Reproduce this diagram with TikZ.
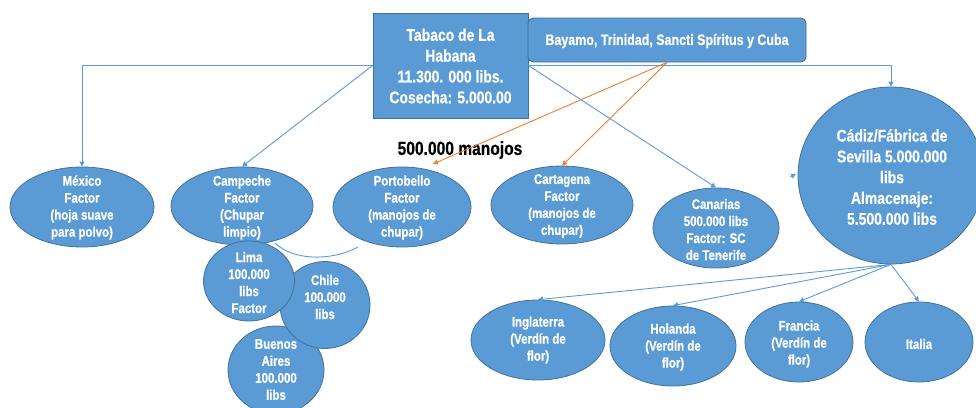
\documentclass[tikz,border=0pt]{standalone}
\usepackage{fontspec}
\setmainfont{Liberation Sans}
\newfontfamily\nb[FakeStretch=0.82,FakeBold=0.5]{Liberation Sans}
\usetikzlibrary{arrows.meta,shapes.geometric,calc}
\definecolor{nfill}{HTML}{5B9BD5}
\definecolor{ndraw}{HTML}{41719C}
\definecolor{lblue}{HTML}{5B9BD5}
\definecolor{lorange}{HTML}{ED7D31}
\tikzset{
  ell/.style={ellipse, fill=nfill, draw=ndraw, line width=0.8pt, inner sep=0pt},
  boxn/.style={rectangle, fill=nfill, draw=ndraw, line width=0.8pt, inner sep=0pt},
  txt/.style={text=white, font=\nb\bfseries\fontsize{14}{17}\selectfont, align=center, inner sep=0pt},
  bigtxt/.style={text=white, font=\nb\bfseries\fontsize{17}{20.8}\selectfont, align=center, inner sep=0pt},
  bline/.style={draw=lblue, line width=0.9pt},
  barrow/.style={bline, -{Triangle[length=5pt,width=5pt]}},
  oarrow/.style={draw=lorange, line width=0.9pt, -{Triangle[length=5pt,width=5pt]}},
}
\begin{document}
\begin{tikzpicture}[x=1pt,y=-1pt]
\useasboundingbox (0,0) rectangle (976,407);
% top boxes
\node[boxn, minimum width=155, minimum height=105] (tab) at (450.5,65.5) {};
\node[bigtxt] (tabT) at (450.5,66) {Tabaco de La\\Habana\\11.300. 000 libs.\\Cosecha: 5.000.00};
\node[boxn, rounded corners=5pt, minimum width=278, minimum height=44] (bay) at (667,40) {};
\node[txt, font=\nb\bfseries\fontsize{15.2}{17}\selectfont] (bayT) at (667,41) {Bayamo, Trinidad, Sancti Spíritus y Cuba};
% first row
\node[ell, minimum width=144, minimum height=80] (mex) at (82,207) {};
\node[txt] (mexT) at (82,207.5) {México\\Factor\\(hoja suave\\para polvo)};
\node[ell, minimum width=142, minimum height=78] (camp) at (242,206) {};
\node[txt] (campT) at (242,207.5) {Campeche\\Factor\\(Chupar\\limpio)};
\node[ell, minimum width=138, minimum height=80] (port) at (402,207) {};
\node[txt] (portT) at (402,207.5) {Portobello\\Factor\\(manojos de\\chupar)};
\node[ell, minimum width=142, minimum height=78] (cart) at (562,205) {};
\node[txt] (cartT) at (562,206) {Cartagena\\Factor\\(manojos de\\chupar)};
\node[ell, minimum width=126, minimum height=80] (can) at (716,228) {};
\node[txt] (canT) at (716,229.5) {Canarias\\500.000 libs\\Factor: SC\\de Tenerife};
\node[ell, minimum width=186, minimum height=177] (cad) at (891,175.5) {};
\node[bigtxt] (cadT) at (892,177) {Cádiz/Fábrica de\\Sevilla 5.000.000\\libs\\Almacenaje:\\5.500.000 libs};
% southern cluster
\node[ell, minimum width=96, minimum height=88] (buen) at (276,370) {};
\node[txt] (buenT) at (276,369.5) {Buenos\\Aires\\100.000\\libs};
\node[ell, minimum width=90, minimum height=87] (chile) at (325,305) {};
\node[txt] (chileT) at (325,297) {Chile\\100.000\\libs};
\node[ell, minimum width=91, minimum height=80] (lima) at (249,281) {};
\node[txt] (limaT) at (249,282.5) {Lima\\100.000\\libs\\Factor};
% bottom row
\node[ell, minimum width=134, minimum height=80] (ing) at (538,340) {};
\node[txt] (ingT) at (538,340) {Inglaterra\\(Verdín de\\flor)};
\node[ell, minimum width=126, minimum height=80] (hol) at (673,346) {};
\node[txt] (holT) at (673,347) {Holanda\\(Verdín de\\flor)};
\node[ell, minimum width=108, minimum height=80] (fra) at (799,342) {};
\node[txt] (fraT) at (799,344) {Francia\\(Verdín de\\flor)};
\node[ell, minimum width=108, minimum height=80] (ita) at (919,342) {};
\node[txt] (itaT) at (919,344) {Italia};
% label
\node[font=\nb\bfseries\fontsize{19}{22}\selectfont, inner sep=0pt] (man) at (460,150) {500.000 manojos};
% connectors
\draw[barrow] (tab.west) -| (mex.north);
\draw[barrow] (tab.west) -- (camp.north);
\draw[barrow] (tab.east) -- (can.north);
\draw[barrow] (tab.east) -| (cad.north);
\coordinate (portTip) at (433,164);
\draw[oarrow] (bay.south) -- (portTip);
\draw[oarrow] (bay.south) -- (cart.north);
\draw[barrow] (cad.south) -- (ing.north);
\draw[barrow] (cad.south) -- (hol.north);
\draw[barrow] (cad.south) -- (fra.north);
\draw[barrow] (cad.south) -- (ita.north);
\coordinate (campEnd) at (275,243);
\coordinate (portEnd) at (358,247);
\draw[bline] (campEnd) .. controls (292,260) and (330,262) .. (portEnd);
\coordinate (strayA) at (790,177);
\coordinate (strayB) at (796,174);
\draw[barrow] (strayA) -- (strayB);
\end{tikzpicture}
\end{document}
